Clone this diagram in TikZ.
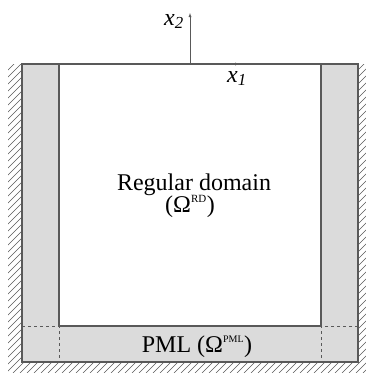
\documentclass[tikz,border=0pt]{standalone}
\usepackage{fontspec}
\setmainfont{Liberation Serif}
\usetikzlibrary{arrows,positioning}
\definecolor{pmlgray}{gray}{0.86}
\definecolor{edgegray}{gray}{0.35}

\begin{document}
\begin{tikzpicture}[x=1pt,y=-1pt]
    \useasboundingbox (0,0) rectangle (366,373);

    % Hatched walls
    \begin{scope}
        \clip (8,64) rectangle (22,373) (22,362) rectangle (366,373) (358,64) rectangle (366,362);
        \foreach \i in {-330,-323,...,370}
            \draw[edgegray, thin] (\i,373) -- ++(320,-320);
    \end{scope}

    % PML layer and regular domain
    \fill[pmlgray] (22,64) rectangle (358,362);
    \fill[white] (59,64) rectangle (321,326);
    \draw[edgegray, line width=1.2pt] (22,64) rectangle (358,362);
    \draw[edgegray, line width=1.2pt] (59,64) -- (59,326) -- (321,326) -- (321,64);
    \draw[edgegray, dashed, thin] (22,326) -- (59,326) -- (59,362);
    \draw[edgegray, dashed, thin] (358,326) -- (321,326) -- (321,362);

    % Axes
    \coordinate (o) at (190,64);
    \coordinate (e2) at (190,13);
    \coordinate (e1) at (239,64);
    \draw[-latex, edgegray, thin] (o) -- (e2);
    \draw[-latex, edgegray, thin] (o) -- (e1);
    \node[font=\fontsize{24}{26}\selectfont, anchor=base west, inner sep=0pt] (x2) at (164,25) {\textit{x}\textsubscript{\textit{2}}};
    \node[font=\fontsize{24}{26}\selectfont, anchor=base west, inner sep=0pt] (x1) at (227,82) {\textit{x}\textsubscript{\textit{1}}};

    % Labels
    \node[font=\fontsize{24}{26}\selectfont, anchor=base, inner sep=0pt] (rd) at (194,190) {Regular domain};
    \node[font=\fontsize{24}{26}\selectfont, anchor=base, inner sep=0pt] (rdsym) at (190,212) {(Ω\textsuperscript{\fontsize{11}{12}\selectfont RD})};
    \node[font=\fontsize{24}{26}\selectfont, anchor=base, inner sep=0pt] (pml) at (197,352) {PML (Ω\textsuperscript{\fontsize{10}{12}\selectfont PML})};
\end{tikzpicture}
\end{document}
